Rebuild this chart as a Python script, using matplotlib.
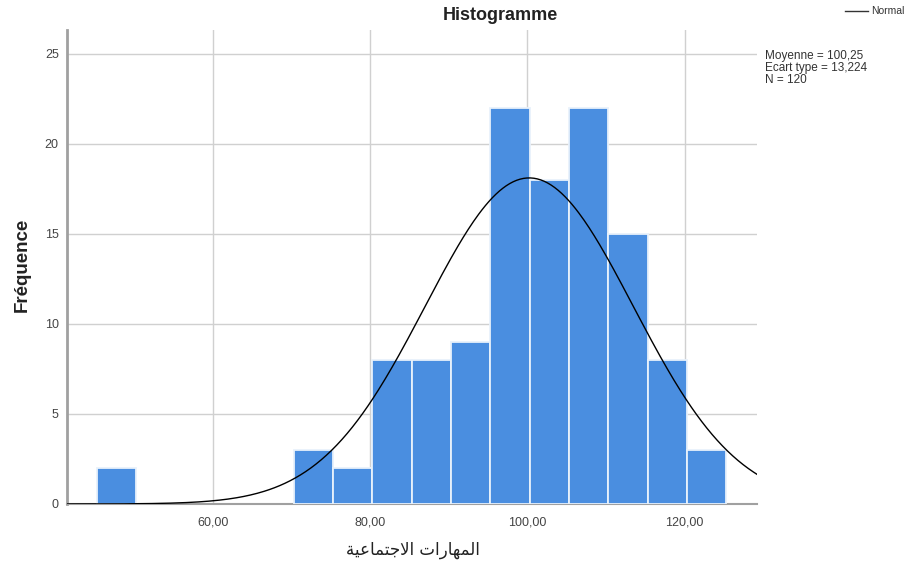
import numpy as np
import matplotlib.pyplot as plt

# Histogram bins (lower edge, width 5) and counts
bin_starts = [45, 70, 75, 80, 85, 90, 95, 100, 105, 110, 115, 120]
counts = [2, 3, 2, 8, 8, 9, 22, 18, 22, 15, 8, 3]
bin_width = 5

mean = 100.25
std = 13.224
n = 120

x_ticks = [60, 80, 100, 120]
x_tick_labels = ["60,00", "80,00", "100,00", "120,00"]
y_ticks = [0, 5, 10, 15, 20, 25]

# "المهارات الاجتماعية" in Arabic presentation forms, visual order
logical = ["\uFE8D", "\uFEDF", "\uFEE4", "\uFEEC", "\uFE8E", "\uFEAD", "\uFE8D", "\uFE95", " ",
           "\uFE8D", "\uFEFB", "\uFE9F", "\uFE98", "\uFEE4", "\uFE8E", "\uFECB", "\uFEF4", "\uFE94"]
x_label = "".join(reversed(logical))

plt.rcParams["font.family"] = ["Liberation Sans", "DejaVu Sans"]

fig = plt.figure(figsize=(9.12, 5.7), dpi=100)
ax = fig.add_axes([0.0735, 0.1158, 0.7565, 0.8312])

ax.bar([b + 0.3 for b in bin_starts], counts, width=bin_width, align="edge",
       color="#4a8ee0", edgecolor="#e8f1fb", linewidth=1.3, zorder=3)

xs = np.linspace(41.5, 129.2, 400)
ys = n * bin_width * np.exp(-0.5 * ((xs - mean) / std) ** 2) / (std * np.sqrt(2 * np.pi))
ax.plot(xs, ys, color="black", linewidth=1.0, zorder=4)

ax.set_xlim(41.5, 129.2)
ax.set_ylim(0, 26.3)
ax.set_xticks(x_ticks)
ax.set_xticklabels(x_tick_labels)
ax.set_yticks(y_ticks)

ax.grid(True, color="#d0d0d0", linewidth=1.0, zorder=0)
ax.tick_params(length=0, labelsize=9, colors="#444444")
ax.tick_params(axis="x", pad=9)
ax.tick_params(axis="y", pad=6)
for s in ["top", "right"]:
    ax.spines[s].set_visible(False)
ax.spines["left"].set_color("#a0a0a0")
ax.spines["left"].set_linewidth(2)
ax.spines["bottom"].set_color("#a0a0a0")
ax.spines["bottom"].set_linewidth(1.5)

fig.text(0.549, 0.972, "Histogramme", ha="center", va="center",
         fontsize=13, fontweight="bold", color="#222222")
fig.text(0.024, 0.535, "Fréquence", rotation=90, ha="center", va="center",
         fontsize=13.5, fontweight="bold", color="#222222")
fig.text(0.453, 0.035, x_label, ha="center", va="center", fontsize=12,
         family=["DejaVu Sans"], color="#222222")

fig.text(0.839, 0.912, "Moyenne = 100,25\nEcart type = 13,224\nN = 120",
         ha="left", va="top", fontsize=8.5, color="#333333", linespacing=1.0)

fig.lines.append(plt.Line2D([0.927, 0.952], [0.98, 0.98], transform=fig.transFigure,
                            color="#333333", linewidth=1))
fig.text(0.955, 0.98, "Normal", ha="left", va="center", fontsize=7.5, color="#333333")

plt.savefig("out.png", dpi=100)
